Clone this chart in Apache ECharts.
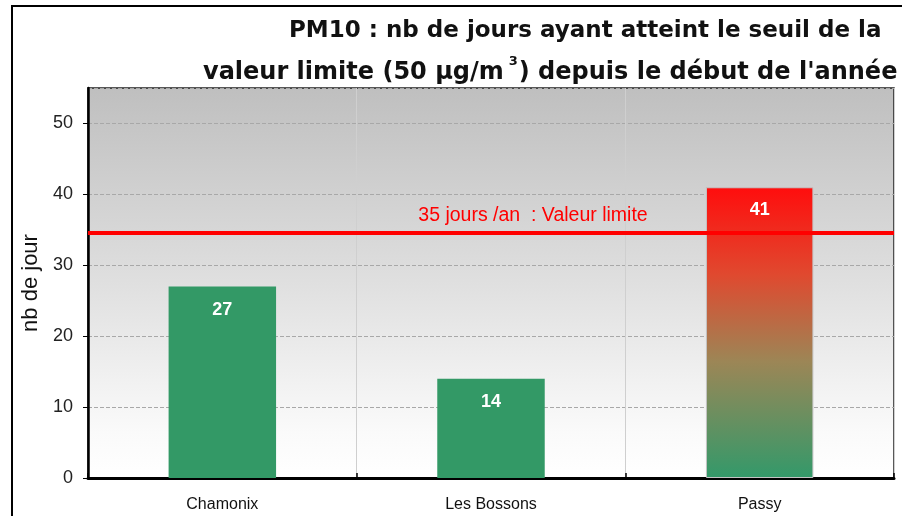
<!DOCTYPE html>
<html><head><meta charset="utf-8">
<script src="https://cdn.jsdelivr.net/npm/echarts@6/dist/echarts.min.js"></script>
<style>html,body{margin:0;padding:0;background:#fff}#c{width:902px;height:516px}</style>
</head><body><div id="c"></div>
<script>
const categories = ['Chamonix', 'Les Bossons', 'Passy'];
const values = [27, 14, 41];
const limitValue = 34.6;
const limitLabel = '35 jours /an  : Valeur limite';
const yTicks = [0, 10, 20, 30, 40, 50];
const titleLine1 = 'PM10 : nb de jours ayant atteint le seuil de la';
const titleLine2a = 'valeur limite (50 µg/m';
const titleLine2b = ') depuis le début de l\'année';

const green = '#339966';
const passyGrad = new echarts.graphic.LinearGradient(0, 0, 0, 1, [
  {offset: 0, color: '#ff0d0d'},
  {offset: 0.3, color: '#e0492f'},
  {offset: 0.6, color: '#9c8656'},
  {offset: 1, color: '#33996a'}
]);

const chart = echarts.init(document.getElementById('c'));
chart.setOption({
  animation: false,
  backgroundColor: '#fff',
  title: [
    {text: titleLine1, left: 284, top: 15,
     textStyle: {fontFamily: 'DejaVu Sans', fontWeight: 'bold', fontSize: 23, color: '#111'}},
    {text: '{a|' + titleLine2a + '}{s|3}{a|' + titleLine2b + '}', left: 198, top: 50,
     textStyle: {rich: {
       a: {fontFamily: 'DejaVu Sans', fontWeight: 'bold', fontSize: 24, lineHeight: 30, color: '#111', verticalAlign: 'bottom'},
       s: {fontFamily: 'DejaVu Sans', fontWeight: 'bold', fontSize: 13, lineHeight: 14, color: '#111', verticalAlign: 'top', padding: [0, 1, 0, 5]}
     }}}
  ],
  graphic: [
    {type: 'rect', shape: {x: 12, y: 6, width: 1000, height: 1000}, style: {fill: 'none', stroke: '#000', lineWidth: 2}, silent: true, z: 100}
  ],
  grid: {left: 88, top: 88, right: 8, bottom: 38, show: true,
    backgroundColor: new echarts.graphic.LinearGradient(0, 0, 0, 1, [
      {offset: 0, color: '#bfbfbf'},
      {offset: 0.45, color: '#dcdcdc'},
      {offset: 0.88, color: '#fafafa'},
      {offset: 1, color: '#ffffff'}
    ]),
    borderColor: '#222', borderWidth: 1.5},
  xAxis: {
    type: 'category', data: categories,
    axisLine: {lineStyle: {color: '#000', width: 3}},
    axisTick: {show: true, inside: true, length: 5, lineStyle: {color: '#000', width: 1.5}},
    splitLine: {show: true, lineStyle: {color: '#cfcfcf', width: 1}},
    axisLabel: {fontFamily: 'Liberation Sans', fontSize: 16, color: '#111', margin: 19}
  },
  yAxis: {
    type: 'value', min: 0, max: 55, interval: 10,
    name: 'nb de jour', nameLocation: 'middle', nameGap: 41,
    nameTextStyle: {fontFamily: 'Liberation Sans', fontSize: 22, color: '#111'},
    axisLine: {show: true, lineStyle: {color: '#000', width: 2.5}},
    axisTick: {show: true, length: 5, lineStyle: {color: '#000', width: 1}},
    axisLabel: {fontFamily: 'Liberation Sans', fontSize: 18, color: '#222', margin: 15, showMaxLabel: false,
      formatter: v => yTicks.includes(v) ? String(v) : ''},
    splitLine: {show: true, lineStyle: {color: '#a8a8a8', type: 'dashed', width: 1}}
  },
  series: [{
    type: 'bar', barWidth: '40%',
    data: values.map((v, i) => i === 2
      ? {value: v, itemStyle: {color: passyGrad, borderColor: '#c4c4c4', borderWidth: 1}}
      : {value: v, itemStyle: {color: green}}),
    label: {show: true, position: 'insideTop', distance: 14, color: '#fff',
      fontFamily: 'Liberation Sans', fontWeight: 'bold', fontSize: 18},
    markLine: {
      silent: true, symbol: 'none',
      lineStyle: {color: '#ff0000', width: 4, type: 'solid'},
      label: {show: true, position: 'middle', formatter: limitLabel, color: '#ff0000',
        fontFamily: 'Liberation Sans', fontSize: 19.5, offset: [42, -2]},
      data: [{yAxis: limitValue}]
    }
  }]
});
</script>
</body></html>
